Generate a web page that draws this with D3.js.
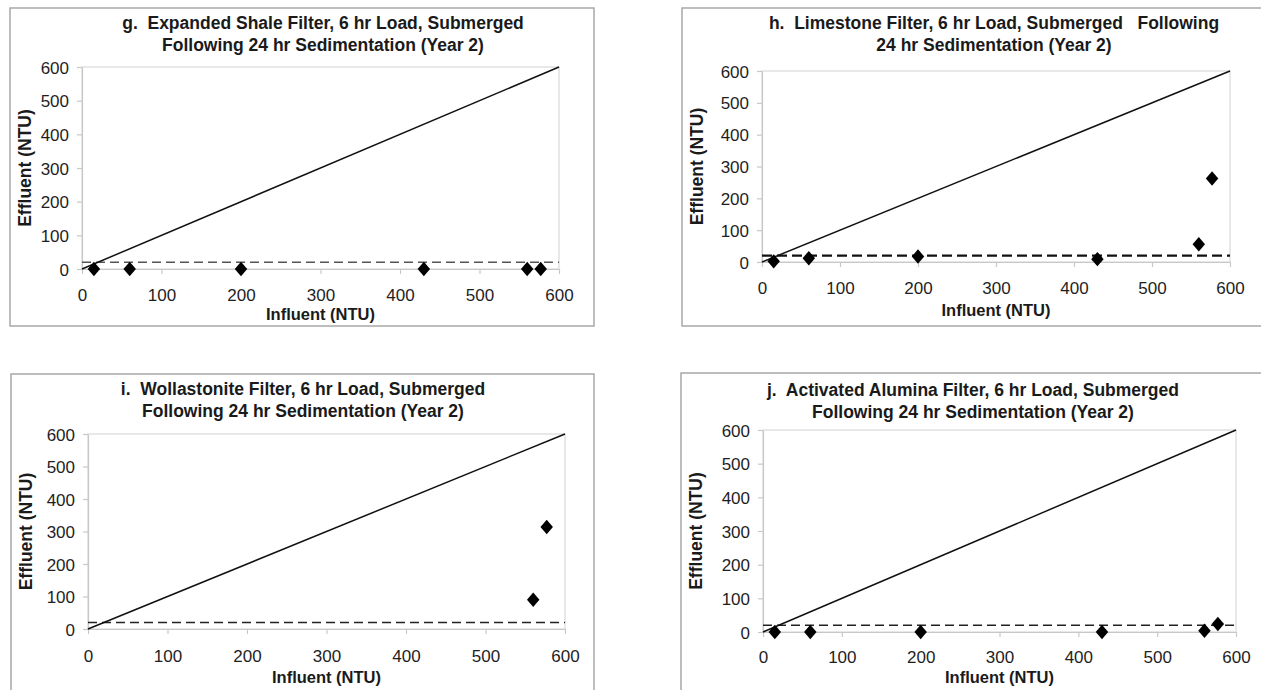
<!DOCTYPE html>
<html>
<head>
<meta charset="utf-8">
<script src="https://cdn.jsdelivr.net/npm/d3@7"></script>
<style>
  body { margin: 0; background: #fff; }
  svg { display: block; font-family: "Liberation Sans", Arial, sans-serif; }
  text { white-space: pre; }
</style>
</head>
<body>
<svg id="canvas" width="1261" height="690"></svg>
<script>
// influent turbidity of the six storm loads (same for every filter)
const influent = [15, 60, 200, 430, 560, 577];

// effluent turbidity per filter (null = not plotted)
const effluentG = [0, 0, 0, 0, 0, 0];
const effluentH = [2, 12, 17, 9, 56, 262];
const effluentI = [null, null, null, null, 90, 314];
const effluentJ = [0, 0, 0, 0, 4, 24];

const titlesG = ['g.  Expanded Shale Filter, 6 hr Load, Submerged', 'Following 24 hr Sedimentation (Year 2)'];
const titlesH = ['h.  Limestone Filter, 6 hr Load, Submerged   Following', '24 hr Sedimentation (Year 2)'];
const titlesI = ['i.  Wollastonite Filter, 6 hr Load, Submerged', 'Following 24 hr Sedimentation (Year 2)'];
const titlesJ = ['j.  Activated Alumina Filter, 6 hr Load, Submerged', 'Following 24 hr Sedimentation (Year 2)'];

const axisTicks = [0, 100, 200, 300, 400, 500, 600];
const axisDomain = [0, 600];
const oneToOne = [0, 600];
const targetLevel = 20;

const xLabel = 'Influent (NTU)';
const yLabel = 'Effluent (NTU)';

// layout of the four panels
const panels = [
  { titles: titlesG, values: effluentG, frame: [10, 8, 584, 318], plot: [82, 67, 559, 269], titleX: 323, titleY: 23,
    tickY: 26, labelY: 45, dash: { color: '#555', width: 1.5, arr: '9,5' } },
  { titles: titlesH, values: effluentH, frame: [682, 8, 600, 318], plot: [762, 71, 1230, 262], titleX: 994, titleY: 23,
    tickY: 26, labelY: 48, dash: { color: '#111', width: 2.2, arr: '10,5' } },
  { titles: titlesI, values: effluentI, frame: [11, 374, 583, 340], plot: [88, 434, 565, 629], titleX: 303, titleY: 389,
    tickY: 27, labelY: 48, dash: { color: '#222', width: 1.5, arr: '9,5' } },
  { titles: titlesJ, values: effluentJ, frame: [681, 373, 600, 340], plot: [763, 430, 1236, 632], titleX: 973, titleY: 390,
    tickY: 25, labelY: 45, dash: { color: '#222', width: 1.6, arr: '9,5' } }
];

const svg = d3.select('#canvas');
const diamond = d3.symbolDiamond2 || d3.symbolDiamond;

const drawPanel = (p) => {
  const g = svg.append('g');

  g.append('rect')
    .attr('x', p.frame[0]).attr('y', p.frame[1])
    .attr('width', p.frame[2]).attr('height', p.frame[3])
    .attr('fill', '#fff').attr('stroke', '#a8a8a8').attr('stroke-width', 1.5);

  const [x0, y0, x1, y1] = p.plot;
  const x = d3.scaleLinear().domain(axisDomain).range([x0, x1]);
  const y = d3.scaleLinear().domain(axisDomain).range([y1, y0]);

  // plot area border
  g.append('rect')
    .attr('x', x0).attr('y', y0).attr('width', x1 - x0).attr('height', y1 - y0)
    .attr('fill', 'none').attr('stroke', '#d9d9d9').attr('stroke-width', 1.2);

  const xAxis = g.append('g')
    .attr('transform', `translate(0,${y1})`)
    .call(d3.axisBottom(x).tickValues(axisTicks).tickSize(5).tickSizeOuter(0));
  xAxis.selectAll('text').attr('y', p.tickY).attr('dy', '0.35em');

  const yAxis = g.append('g')
    .attr('transform', `translate(${x0},0)`)
    .call(d3.axisLeft(y).tickValues(axisTicks).tickSize(5).tickSizeOuter(0));
  yAxis.selectAll('text').attr('x', -13).attr('dy', '0.36em');

  [xAxis, yAxis].forEach((a) => {
    a.select('.domain').attr('stroke', '#c8c8c8').attr('stroke-width', 1.2);
    a.selectAll('.tick line').attr('stroke', '#c8c8c8').attr('stroke-width', 1.2);
    a.selectAll('text').attr('font-size', 17).attr('fill', '#1e1e1e')
      .attr('font-family', '"Liberation Sans", Arial, sans-serif');
  });

  // dashed reference level
  g.append('line')
    .attr('x1', x(axisDomain[0])).attr('x2', x(axisDomain[1]))
    .attr('y1', y(targetLevel)).attr('y2', y(targetLevel))
    .attr('stroke', p.dash.color).attr('stroke-width', p.dash.width)
    .attr('stroke-dasharray', p.dash.arr);

  // 1:1 line
  g.append('path')
    .datum(oneToOne)
    .attr('d', d3.line().x((d) => x(d)).y((d) => y(d)))
    .attr('stroke', '#111').attr('stroke-width', 1.5).attr('fill', 'none');

  const pts = influent
    .map((v, i) => ({ inf: v, eff: p.values[i] }))
    .filter((d) => d.eff !== null);

  g.selectAll('path.pt')
    .data(pts)
    .enter()
    .append('path')
    .attr('class', 'pt')
    .attr('d', d3.symbol().type(diamond).size(diamond === d3.symbolDiamond ? 140 : 110))
    .attr('transform', (d) => `translate(${x(d.inf)},${y(d.eff)}) scale(0.95,1.1)`)
    .attr('fill', '#000');

  const title = g.append('text')
    .attr('x', p.titleX).attr('y', p.titleY)
    .attr('text-anchor', 'middle')
    .attr('font-size', 17.5).attr('font-weight', 'bold').attr('fill', '#1a1a1a');
  p.titles.forEach((t, i) => {
    title.append('tspan')
      .attr('x', p.titleX)
      .attr('y', p.titleY + i * 22)
      .attr('dy', '0.35em')
      .text(t);
  });

  g.append('text')
    .attr('x', (x0 + x1) / 2).attr('y', y1 + p.labelY).attr('dy', '0.35em')
    .attr('text-anchor', 'middle')
    .attr('font-size', 16.5).attr('font-weight', 'bold').attr('fill', '#1a1a1a')
    .text(xLabel);

  g.append('text')
    .attr('transform', `translate(${p.frame[0] + 15},${(y0 + y1) / 2}) rotate(-90)`)
    .attr('dy', '0.35em')
    .attr('text-anchor', 'middle')
    .attr('font-size', 17.5).attr('font-weight', 'bold').attr('fill', '#1a1a1a')
    .text(yLabel);
};

panels.forEach(drawPanel);
</script>
</body>
</html>
